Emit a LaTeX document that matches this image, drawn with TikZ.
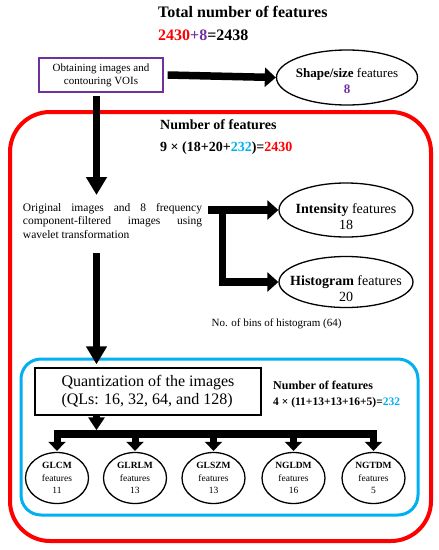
\documentclass[tikz,border=0pt]{standalone}
\usepackage{fontspec}
\setmainfont{Liberation Serif}
\usetikzlibrary{arrows.meta,shapes.geometric}
\definecolor{myred}{RGB}{255,0,0}
\definecolor{mycyan}{RGB}{0,176,240}
\definecolor{mypurple}{RGB}{112,48,160}
\newcommand\fsz[2]{\fontsize{#1pt}{#2pt}\selectfont}
\begin{document}
\begin{tikzpicture}[x=1pt,y=-1pt,
  ell/.style={ellipse,draw,line width=1.3pt,inner sep=0pt,align=center},
  elltext/.style={align=center,inner sep=0pt},
  harrow/.style={line width=7.5pt,-{Triangle[length=11pt,width=19pt]}},
  varrow/.style={line width=7.5pt,-{Triangle[length=18pt,width=20pt]}},
  qarrow/.style={line width=7.5pt,-{Triangle[length=13pt,width=16pt]}},
  sarrow/.style={line width=7pt,-{Triangle[length=9pt,width=17pt]}},
  txt/.style={inner sep=0pt,anchor=west}]
\useasboundingbox (0,0) rectangle (439,550);
% frames
\draw[myred,line width=4pt,rounded corners=40pt] (10,112) rectangle (431,541);
\draw[mycyan,line width=3pt,rounded corners=20pt] (21,359) rectangle (418,515);
% top texts
\node[txt,font=\bfseries\fsz{16}{19}] (title) at (158,12) {Total number of features};
\node[txt,font=\bfseries\fsz{16}{19}] (total) at (158,35) {\textcolor{myred}{2430}\textcolor{mypurple}{+8}=2438};
% obtain box and shape ellipse
\node[draw=mypurple,line width=1.3pt,minimum width=124pt,minimum height=34pt,inner sep=0pt,align=center,font=\fsz{11}{13}] (obtain) at (101,75) {Obtaining images and\\contouring VOIs};
\node[ell,minimum width=141pt,minimum height=55pt,
  label={[elltext,font=\fsz{13}{16},yshift=-3.5pt]center:{\textbf{Shape/size} features\\\textcolor{mypurple}{\textbf{8}}}}] (shape) at (347,77.5) {};
\draw[harrow] ([xshift=4pt]obtain.east) -- (shape.west);
% number of features
\node[txt,font=\bfseries\fsz{14}{17}] (nf) at (160,125) {Number of features};
\node[txt,font=\bfseries\fsz{14}{17}] (nff) at (160,148) {9 × (18+20+\textcolor{mycyan}{232})=\textcolor{myred}{2430}};
% original images text
\node[inner sep=0pt,align=left,font=\fsz{11.5}{13.5}] (orig) at (112.5,221) {\makebox[179pt][s]{Original images and 8 frequency}\\\makebox[179pt][s]{component-filtered images using}\\wavelet transformation};
% intensity and histogram
\node[ell,minimum width=134pt,minimum height=54pt,
  label={[elltext,font=\fsz{14}{15.5},yshift=-6.5pt]center:{\textbf{Intensity} features\\18}}] (int) at (346,210) {};
\node[ell,minimum width=134pt,minimum height=51pt,
  label={[elltext,font=\fsz{14}{15.5},yshift=-6.5pt]center:{\textbf{Histogram} features\\20}}] (hist) at (346,282) {};
\coordinate (b1) at (208,210);
\coordinate (b2) at (222.5,206.25);
\draw[harrow] (b1) -- (int.west);
\draw[harrow] (b2) |- (hist.west);
\node[inner sep=0pt,font=\fsz{11}{13}] (bins) at (276.5,324) {No. of bins of histogram (64)};
% spine arrows
\coordinate (spine) at (96.5,0);
\coordinate (a2) at (96.5,195);
\draw[varrow,shorten <=3pt] (spine |- obtain.south) -- (a2);
\node[draw,line width=1.3pt,minimum width=226pt,minimum height=47pt,inner sep=0pt,align=left,font=\fsz{16}{18}] (quant) at (148,391.5) {Quantization of the images\\(QLs: 16, 32, 64, and 128)};
\coordinate (c1) at (96.5,253);
\draw[varrow,shorten >=3pt] (c1) -- (c1 |- quant.north);
\node[txt,font=\bfseries\fsz{12}{14}] (nf2) at (273,385) {Number of features};
\node[txt,font=\bfseries\fsz{11.5}{14}] (nf2f) at (273,403) {4 × (11+13+13+16+5)=\textcolor{mycyan}{232}};
% texture ellipses
\foreach \n/\x/\t/\v in {glcm/57/GLCM/11, glrlm/135/GLRLM/13, glszm/213.5/GLSZM/13, ngldm/293.5/NGLDM/16, ngtdm/373.5/NGTDM/5}
  \node[ell,minimum width=63pt,minimum height=51pt,font=\fsz{9.5}{12.5}] (\n) at (\x,478) {\textbf{\t}\\features\\\v};
\coordinate (bar) at (0,434);
\coordinate (barL) at (53.5,434);
\coordinate (barR) at (377.25,434);
\draw[line width=7.5pt] (barL) -- (barR);
\draw[qarrow,shorten >=3.75pt] (spine |- quant.south) -- (spine |- bar);
\foreach \n in {glcm,glrlm,glszm,ngldm,ngtdm}
  \draw[sarrow,shorten >=1pt] (\n.north |- bar) -- (\n.north);
\end{tikzpicture}
\end{document}
